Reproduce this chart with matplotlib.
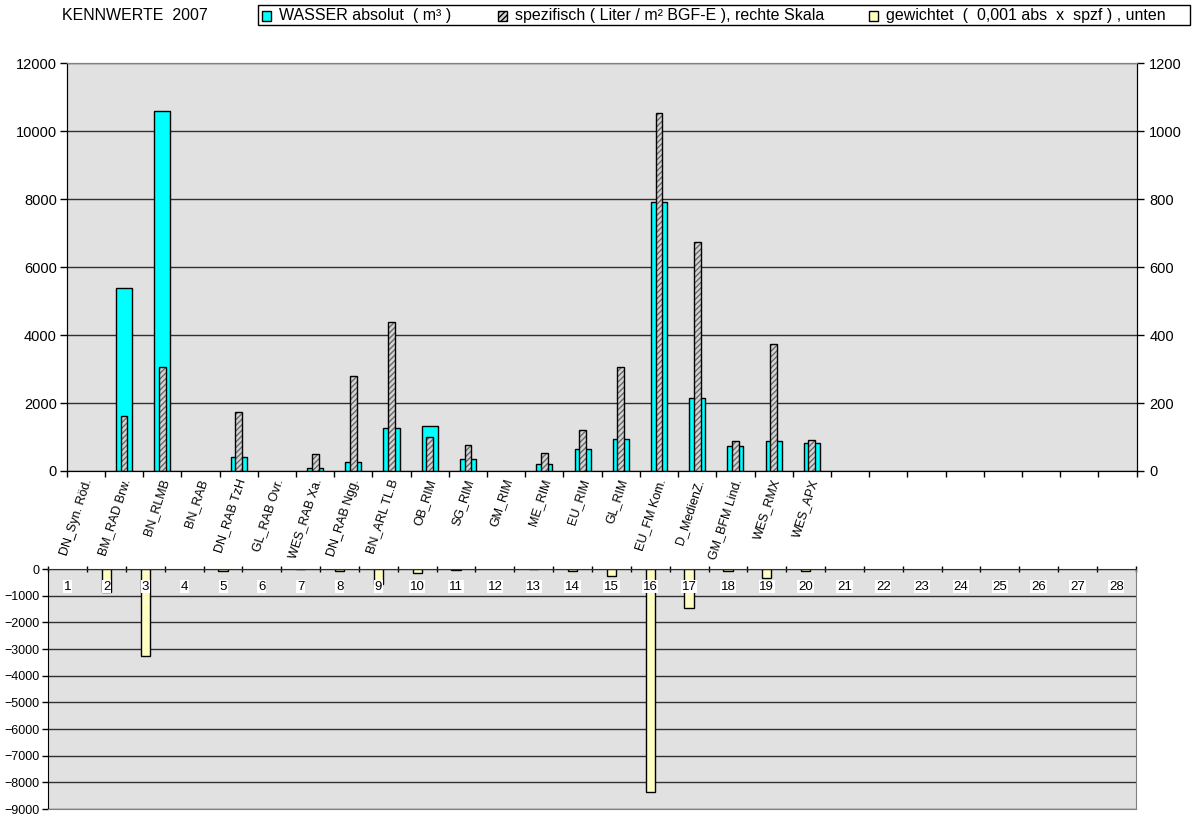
import matplotlib
matplotlib.use("Agg")
import matplotlib.pyplot as plt
import matplotlib.transforms as mtransforms
from matplotlib.patches import Rectangle
import numpy as np

plt.rcParams["font.family"] = ["Liberation Sans", "DejaVu Sans"]

nan = np.nan

sites = ["DN_Syn. Röd.", "BM_RAD Brw.", "BN_RLMB", "BN_RAB", "DN_RAB TzH",
         "GL_RAB Ovr.", "WES_RAB Xa.", "DN_RAB Ngg.", "BN_ARL TL.B", "OB_RIM",
         "SG_RIM", "GM_RIM", "ME_RIM", "EU_RIM", "GL_RIM",
         "EU_FM Kom.", "D_MedienZ.", "GM_BFM Lind.", "WES_RMX", "WES_APX"]
n_slots = 28

# absolute water consumption (m³), left scale
wasser = [nan, 5380, 10600, nan, 410, nan, 80, 275, 1280, 1335,
          365, nan, 215, 640, 930, 7920, 2140, 750, 875, 815]
# specific consumption (l / m² BGF-E), right scale
spezifisch = [nan, 162, 306, nan, 175, nan, 49, 279, 440, 100,
              77, nan, 52, 122, 306, 1055, 675, 88, 373, 90]
# weighted 0.001 * abs * spzf, lower panel (drawn negative)
gewichtet = [nan, -870, -3250, nan, -70, nan, -5, -75, -550, -135,
             -30, nan, -10, -75, -280, -8370, -1445, -65, -325, -75]

legend_labels = ["WASSER absolut  ( m³ )",
                 "spezifisch ( Liter / m² BGF-E ), rechte Skala",
                 "gewichtet  (  0,001 abs  x  spzf ) , unten"]

W, H = 1193, 815
fig = plt.figure(figsize=(W / 100, H / 100), dpi=100)

BG = "#e1e1e1"
GRID = "#303030"
CYAN = "#00ffff"
YELLOW = "#ffffc4"
HATCH_FACE = "#d4d4d4"


def fig_rect(left, top, right, bottom):
    return [left / W, 1 - bottom / H, (right - left) / W, (bottom - top) / H]


# ---- upper panel: absolute + specific
ax = fig.add_axes(fig_rect(66.7, 63.3, 1136.7, 471))
ax2 = ax.twinx()
x = np.arange(1, len(sites) + 1)

ax.set_facecolor(BG)
ax.set_axisbelow(True)
ax.grid(axis="y", color=GRID, lw=1.0)
ax.bar(x, wasser, width=0.42, color=CYAN, edgecolor="black", lw=1.0, zorder=2)

ax2.bar(x, spezifisch, width=0.18, color=HATCH_FACE, edgecolor="#6a6a6a",
        hatch="//////", lw=0, zorder=2)
ax2.bar(x, spezifisch, width=0.18, fill=False, edgecolor="black", lw=1.0, zorder=3)

ax.set_xlim(0.5, n_slots + 0.5)
ax.set_ylim(0, 12000)
ax2.set_ylim(0, 1200)
ax.set_yticks(np.arange(0, 12001, 2000))
ax2.set_yticks(np.arange(0, 1201, 200))
ax.tick_params(axis="y", direction="out", length=5, width=1, labelsize=10.5, pad=2)
ax2.tick_params(axis="y", direction="out", length=5, width=1, labelsize=10.5, pad=4)

ax.set_xticks(np.arange(1, n_slots + 1))
ax.set_xticklabels(sites + [""] * (n_slots - len(sites)), rotation=72,
                   ha="right", va="center", rotation_mode="anchor", fontsize=9)
ax.set_xticks(np.arange(0.5, n_slots + 1), minor=True)
ax.tick_params(axis="x", which="major", length=0, pad=6)
ax.tick_params(axis="x", which="minor", direction="out", length=4, width=1)
shift = mtransforms.ScaledTranslation(0.03, 0, fig.dpi_scale_trans)
for lbl in ax.get_xticklabels():
    lbl.set_transform(lbl.get_transform() + shift)

for a in (ax, ax2):
    a.spines["top"].set_color("#808080")
    a.spines["left"].set_color("black")
    a.spines["right"].set_color("black")
    a.spines["bottom"].set_color("black")

# ---- lower panel: weighted value
axb = fig.add_axes(fig_rect(48.3, 569, 1135.7, 809))
axb.set_facecolor(BG)
axb.set_axisbelow(True)
axb.grid(axis="y", color=GRID, lw=1.0)
axb.bar(x, gewichtet, width=0.24, color=YELLOW, edgecolor="black", lw=1.0, zorder=2)
axb.set_xlim(0.5, n_slots + 0.5)
axb.set_ylim(-9000, 0)
axb.set_yticks(np.arange(-9000, 1, 1000))
axb.tick_params(axis="y", direction="out", length=4, width=1, labelsize=9, pad=2)
axb.xaxis.tick_top()
axb.set_xticks(np.arange(0.5, n_slots + 1))
axb.set_xticklabels([])
axb.tick_params(axis="x", direction="inout", length=5, width=1, top=True, bottom=False)
for i in range(1, n_slots + 1):
    axb.text(i, -660, str(i), ha="center", va="center", fontsize=9.5, zorder=4,
             bbox=dict(facecolor="white", edgecolor="none", pad=0.6))
axb.spines["top"].set_color("#303030")
axb.spines["left"].set_color("black")
axb.spines["right"].set_color("#808080")
axb.spines["bottom"].set_color("#808080")

# ---- header: title and key box
fig.text(62 / W, 1 - 16 / H, "KENNWERTE  2007", fontsize=11.5, ha="left", va="center")

fig.patches.append(Rectangle((258 / W, 1 - 25 / H), (1190 - 258) / W, 20 / H,
                             transform=fig.transFigure, facecolor="white",
                             edgecolor="black", lw=1.0))
key_x = [262, 498, 869]
key_style = [dict(facecolor=CYAN),
             dict(facecolor=HATCH_FACE, hatch="//////"),
             dict(facecolor=YELLOW)]
for kx, style, text in zip(key_x, key_style, legend_labels):
    fig.patches.append(Rectangle((kx / W, 1 - 20.5 / H), 9 / W, 9 / H,
                                 transform=fig.transFigure, edgecolor="black",
                                 lw=1.0, **style))
    fig.text((kx + 17) / W, 1 - 15.5 / H, text, fontsize=11.5, ha="left", va="center")

fig.savefig("out.png", dpi=100)
